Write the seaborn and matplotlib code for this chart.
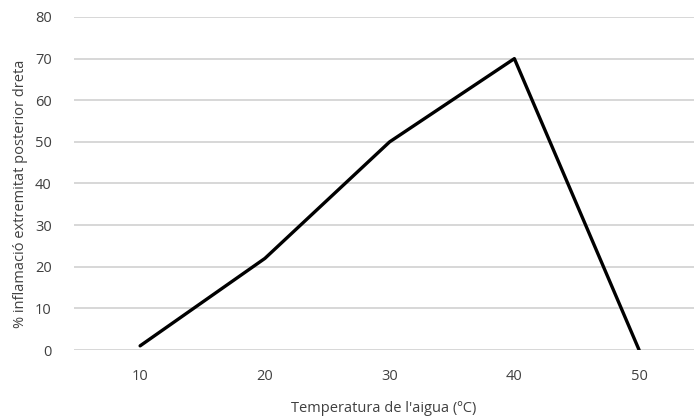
import matplotlib
matplotlib.use("Agg")
import matplotlib.pyplot as plt
import seaborn as sns
import pandas as pd

temperatures = [10, 20, 30, 40, 50]
inflammation = [1, 22, 50, 70, 0]
y_ticks = [0, 10, 20, 30, 40, 50, 60, 70, 80]

sns.set_style("white")
plt.rcParams['font.family'] = ['Open Sans', 'DejaVu Sans']

df = pd.DataFrame({"temp": temperatures, "val": inflammation})

fig = plt.figure(figsize=(6.94, 4.17), dpi=100)
ax = fig.add_axes([74/694, 1 - 350/417, 1 - 74/694, (350 - 17)/417])

sns.lineplot(data=df, x="temp", y="val", ax=ax, color="black", linewidth=2.4)

ax.set_xlim(4.7, 54.4)
ax.set_ylim(0, 80)
ax.set_yticks(y_ticks)
ax.set_xticks(temperatures)
ax.yaxis.grid(True, color="#d4d4d4", linewidth=1.3)
ax.xaxis.grid(False)
for s in ax.spines.values():
    s.set_visible(False)
ax.tick_params(axis="x", length=0, labelsize=10.5, colors="#404040", pad=14)
ax.tick_params(axis="y", length=0, labelsize=10.5, colors="#404040", pad=16)
ax.set_xlabel("Temperatura de l'aigua (ºC)", fontsize=10.5, color="#404040", labelpad=12)
ax.set_ylabel("% inflamació extremitat posterior dreta", fontsize=10.5, color="#404040")
ax.yaxis.set_label_coords(-46/620, 0.47)

fig.savefig("out.png", dpi=100)
